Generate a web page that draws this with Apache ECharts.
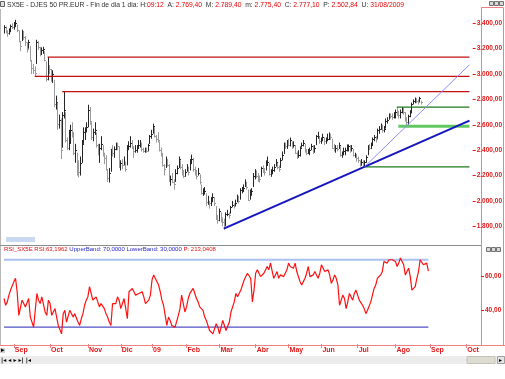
<!DOCTYPE html>
<html><head><meta charset="utf-8">
<script src="https://cdn.jsdelivr.net/npm/echarts@6/dist/echarts.min.js"></script>
<style>html,body{margin:0;padding:0;background:#fff}#c{width:505px;height:379px}</style>
</head><body><div id="c"></div>
<script>
// ---- categories (trading days) ----
const firstDay = '2008-08-22';
const lastAxisDay = '2009-10-14';
const holidays = ['2008-12-24','2008-12-25','2008-12-26','2008-12-31','2009-01-01','2009-04-10','2009-04-13','2009-05-01'];
const monthNames = ['09','Feb','Mar','Abr','May','Jun','Jul','Ago','Sep','Oct','Nov','Dic'];

// ---- daily bars ----
const closes = [
3370,3330,3320,3345,3380,3370,3390,3400,3350,3260,
3220,3330,3290,3250,3200,3250,3110,3050,3030,3010,
3250,3210,3170,3190,3200,3110,2960,3060,3040,2960,
3000,2760,2780,2610,2640,2400,2680,2720,2480,2420,
2460,2560,2540,2380,2400,2260,2230,2300,2450,2540,
2560,2580,2720,2630,2500,2540,2560,2440,2380,2420,
2450,2370,2340,2250,2180,2220,2400,2380,2410,2450,
2430,2270,2300,2280,2310,2250,2420,2430,2460,2430,
2390,2400,2420,2440,2450,2410,2390,2400,2390,2440,
2510,2530,2590,2510,2490,2480,2400,2380,2280,2250,
2300,2280,2160,2170,2150,2130,2220,2260,2330,2270,
2240,2200,2230,2260,2230,2310,2330,2250,2240,2200,
2220,2150,2060,2060,2080,1990,1990,1980,2000,2030,
1980,1860,1850,1920,1850,1830,1810,1900,1900,1890,
1950,1970,1960,1980,2020,2000,2090,2090,2100,2150,
2110,2010,2070,2080,2200,2230,2200,2180,2170,2260,
2240,2230,2280,2310,2210,2230,2240,2270,2310,2270,
2250,2320,2360,2450,2430,2460,2440,2480,2430,2440,
2380,2360,2360,2420,2440,2460,2390,2380,2390,2400,
2430,2390,2420,2510,2510,2470,2490,2500,2470,2480,
2490,2520,2500,2420,2410,2420,2410,2440,2360,2370,
2390,2400,2410,2430,2400,2420,2360,2360,2340,2320,
2280,2310,2290,2310,2350,2430,2420,2440,2490,2500,
2490,2560,2570,2590,2560,2570,2630,2640,2680,2670,
2660,2670,2700,2690,2680,2700,2730,2700,2640,2620,
2670,2700,2760,2790,2800,2790,2780,2810,2777];
const highs = [
3385,3375,3345,3360,3390,3400,3410,3427,3390,3345,
3260,3350,3340,3300,3250,3270,3220,3110,3080,3060,
3270,3260,3215,3210,3215,3180,3100,3134,3070,3040,
3030,2955,2830,2775,2680,2650,2700,2861,2700,2500,
2560,2600,2620,2540,2450,2380,2320,2350,2480,2580,
2580,2620,2758,2740,2620,2570,2620,2540,2450,2450,
2510,2440,2380,2360,2250,2260,2410,2440,2430,2460,
2460,2430,2320,2330,2350,2310,2440,2470,2510,2480,
2430,2440,2440,2480,2480,2460,2420,2420,2420,2450,
2520,2560,2609,2580,2520,2540,2470,2420,2370,2290,
2350,2330,2290,2200,2220,2170,2250,2280,2350,2320,
2290,2240,2250,2290,2270,2330,2365,2340,2270,2240,
2260,2210,2130,2100,2110,2060,2040,2000,2030,2060,
2030,1960,1890,1940,1910,1870,1860,1910,1930,1910,
1960,2000,1980,2010,2050,2040,2100,2110,2130,2170,
2150,2090,2090,2100,2220,2250,2240,2220,2200,2270,
2280,2260,2320,2350,2300,2250,2270,2290,2330,2300,
2280,2340,2390,2460,2460,2480,2490,2500,2470,2470,
2440,2390,2400,2430,2460,2480,2450,2410,2410,2420,
2450,2440,2440,2520,2545,2510,2500,2530,2500,2500,
2530,2540,2530,2490,2450,2440,2440,2460,2430,2390,
2420,2420,2445,2445,2440,2440,2410,2380,2370,2350,
2320,2330,2320,2320,2360,2440,2450,2460,2500,2520,
2510,2570,2590,2610,2600,2590,2650,2660,2690,2690,
2690,2700,2720,2740,2710,2720,2740,2735,2700,2660,
2680,2715,2775,2800,2815,2810,2800,2820,2790];
const lows = [
3320,3320,3295,3310,3330,3355,3350,3370,3330,3250,
3180,3260,3270,3220,3170,3200,3100,3000,3000,2981,
3080,3190,3140,3150,3160,3100,2940,2950,3000,2940,
2930,2740,2720,2560,2570,2330,2420,2650,2460,2400,
2400,2450,2500,2360,2300,2200,2184,2200,2300,2450,
2480,2540,2580,2600,2480,2470,2520,2420,2360,2300,
2400,2350,2290,2240,2150,2145,2230,2350,2340,2400,
2400,2260,2240,2250,2280,2230,2280,2400,2420,2410,
2340,2380,2380,2410,2420,2390,2380,2380,2380,2390,
2450,2490,2530,2500,2460,2460,2390,2350,2270,2200,
2260,2270,2150,2120,2140,2089,2150,2210,2260,2250,
2200,2180,2190,2230,2200,2240,2290,2230,2200,2170,
2200,2130,2050,2040,2050,1960,1970,1940,1960,1990,
1960,1850,1820,1840,1830,1800,1775,1800,1880,1860,
1900,1950,1940,1960,1990,1980,2010,2060,2070,2110,
2090,2000,2010,2040,2110,2170,2180,2150,2145,2190,
2220,2200,2240,2280,2200,2190,2210,2230,2270,2250,
2230,2260,2320,2370,2410,2410,2430,2430,2410,2420,
2370,2330,2340,2350,2420,2430,2380,2360,2370,2360,
2400,2370,2380,2440,2490,2450,2450,2470,2440,2450,
2470,2480,2480,2410,2390,2380,2390,2410,2350,2340,
2360,2360,2390,2390,2380,2390,2350,2340,2310,2300,
2270,2280,2270,2265,2300,2360,2400,2410,2440,2470,
2460,2490,2530,2560,2540,2540,2570,2610,2640,2650,
2640,2650,2650,2670,2650,2650,2690,2680,2625,2588,
2600,2660,2690,2760,2770,2770,2760,2780,2760];
const rsi = [
47,43,45,49,52,53,57,59,51,37,
36,46,44,42,41,47,36,33,30,31,
50,46,44,48,47,39,37,46,44,37,
38,41,36,31,30,26,38,40,33,34,
40,39,36,38,39,33,31,35,38,43,
46,48,54,50,46,47,48,45,42,44,
43,41,38,36,33,31,44,43,44,48,
46,41,44,47,41,35,51,52,53,51,
49,50,50,51,51,48,44,45,46,49,
58,61,60,57,55,51,46,43,37,31,
36,34,31,32,30,29,37,41,49,44,
39,42,47,50,51,53,50,47,45,42,
43,40,36,34,33,28,29,26,29,32,
30,26,30,34,31,28,27,33,39,38,
45,50,48,49,52,53,58,60,62,61,
59,45,52,62,64,63,60,59,62,63,
66,64,68,69,59,61,63,59,61,62,
60,59,64,68,66,67,65,68,63,62,
57,55,56,59,62,66,60,59,61,63,
61,59,62,67,66,63,64,64,61,56,
58,61,59,55,43,46,49,47,41,45,
50,48,46,50,52,53,46,45,43,41,
38,40,39,45,49,53,55,59,60,61,
63,69,68,68,70,71,70,71,69,66,
68,71,69,67,61,63,65,60,52,53,
54,59,63,70,69,67,66,68,63.2];

// ---- drawn levels and trendlines ----
const redLevels = [3134, 2981, 2861];
const redStarts = ['2008-09-30','2008-09-18','2008-10-13'];
const greenLevels = [2740, 2588, 2268];
const greenStarts = ['2009-08-10','2009-08-11','2009-07-13'];
const levelEnd = '2009-10-12';
const mainTrend = [['2009-03-09',1782],['2009-10-12',2633]];
const fastTrend = [['2009-07-13',2268],['2009-10-12',3073]];
const upperBand = 70, lowerBand = 30;
const priceTicks = [1800,2000,2200,2400,2600,2800,3000,3200,3400];
const rsiTicks = [40,60];

// build trading-day categories
const dates = [];
(function(){
  let t = Date.parse(firstDay + 'T00:00:00Z');
  const end = Date.parse(lastAxisDay + 'T00:00:00Z');
  while (t <= end) {
    const d = new Date(t); const wd = d.getUTCDay(); const s = d.toISOString().slice(0,10);
    if (wd !== 0 && wd !== 6 && holidays.indexOf(s) < 0) dates.push(s);
    t += 86400000;
  }
})();
const idx = s => dates.indexOf(s);
const isMonthStart = i => i > 0 && dates[i].slice(5,7) !== dates[i-1].slice(5,7);
function fmtNum(v){ const p = v.toFixed(2).split('.'); return p[0].replace(/\B(?=(\d{3})+(?!\d))/g,'.') + ',' + p[1]; }

const FONT = '"Liberation Sans", Arial, sans-serif';
const RED = '#e01818';
const PINK = '#f08080';

const bars = closes.map((c,i) => [i, highs[i], lows[i], c, (i > 0 && c < closes[i-1]) ? 1 : 0]);

function lineSeries(data, color, width, gi){
  return {type:'line', xAxisIndex:gi, yAxisIndex:gi, data:data, symbol:'none', silent:true, animation:false,
    lineStyle:{color:color, width:width}, z:3};
}

const series = [{
  type:'custom', xAxisIndex:0, yAxisIndex:0, data:bars, animation:false, silent:true,
  encode:{x:0, y:[1,2]},
  renderItem:function(params, api){
    const i = api.value(0);
    const top = api.coord([i, api.value(1)]);
    const bot = api.coord([i, api.value(2)]);
    const cl = api.coord([i, api.value(3)]);
    const x = Math.round(top[0]) + 0.5;
    const col = api.value(4) ? '#9a9a9a' : '#252525';
    const cy = Math.round(cl[1]) + 0.5;
    return {type:'group', children:[
      {type:'line', shape:{x1:x, y1:top[1], x2:x, y2:bot[1]}, style:{stroke:col, lineWidth:1}},
      {type:'line', shape:{x1:x, y1:cy, x2:x+1.5, y2:cy}, style:{stroke:col, lineWidth:1}}
    ]};
  }
}];
redLevels.forEach((v,i) => series.push(lineSeries([[idx(redStarts[i]), v],[idx(levelEnd), v]], '#c21010', 1.3, 0)));
series.push(lineSeries([[idx(greenStarts[0]), greenLevels[0]],[idx(levelEnd), greenLevels[0]]], '#1b7a1b', 1.3, 0));
series.push(lineSeries([[idx(greenStarts[1]), greenLevels[1]],[idx(levelEnd), greenLevels[1]]], '#62c862', 3, 0));
series.push(lineSeries([[idx(greenStarts[2]), greenLevels[2]],[idx(levelEnd), greenLevels[2]]], '#1b7a1b', 1.3, 0));
series.push(lineSeries(mainTrend.map(p => [idx(p[0]), p[1]]), '#1414c0', 2, 0));
series.push(lineSeries(fastTrend.map(p => [idx(p[0]), p[1]]), '#8c8cff', 1, 0));
// RSI panel
series.push(lineSeries([[0, upperBand],[rsi.length-1, upperBand]], '#a9c0f0', 2, 1));
series.push(lineSeries([[0, lowerBand],[rsi.length-1, lowerBand]], '#5050c8', 1.3, 1));
series.push(lineSeries(rsi.map((v,i) => [i, v]), '#ff1010', 1.2, 1));

const graphic = [
  {type:'line', shape:{x1:0.5,y1:9,x2:0.5,y2:345}, style:{stroke:'#b8b8b8', lineWidth:1}},
  {type:'rect', shape:{x:0.5,y:1.5,width:4,height:5}, style:{fill:'#e0e0e0', stroke:'#606060', lineWidth:1}},
  {type:'text', x:7, y:5, style:{text:'{k|SX5E - DJES 50 PR.EUR - Fin de dia 1 dia: H:}{v|09:12}{k|  A: }{v|2.769,40}{k|  M: }{v|2.789,40}{k|  m: }{v|2.775,40}{k|  C: }{v|2.777,10}{k|  P: }{v|2.502,84}{k|  U: }{v|31/08/2009}',
    verticalAlign:'middle', font:'6.75px ' + FONT,
    rich:{k:{fill:'#303030', fontSize:6.75, fontFamily:FONT}, v:{fill:'#e00000', fontSize:6.75, fontFamily:FONT}}}},
  {type:'rect', shape:{x:481.5,y:7.5,width:22,height:338}, style:{fill:'none', stroke:PINK, lineWidth:1}},
  {type:'rect', shape:{x:489.5,y:1.5,width:4,height:4}, style:{fill:'#d8d8d8', stroke:'#707070', lineWidth:1}},
  {type:'rect', shape:{x:494.5,y:1.5,width:4,height:4}, style:{fill:'#d8d8d8', stroke:'#707070', lineWidth:1}},
  {type:'rect', shape:{x:499.5,y:1.5,width:4,height:4}, style:{fill:'#d8d8d8', stroke:'#707070', lineWidth:1}},
  {type:'line', shape:{x1:0,y1:245.5,x2:481,y2:245.5}, style:{stroke:'#8c8c8c', lineWidth:1}},
  {type:'rect', shape:{x:6,y:237,width:29,height:5}, style:{fill:'#c8d8f0'}},
  {type:'rect', shape:{x:486.5,y:247.5,width:4,height:4}, style:{fill:'#d8d8d8', stroke:'#707070', lineWidth:1}},
  {type:'rect', shape:{x:491.5,y:247.5,width:4,height:4}, style:{fill:'#d8d8d8', stroke:'#707070', lineWidth:1}},
  {type:'rect', shape:{x:496.5,y:247.5,width:4,height:4}, style:{fill:'#d8d8d8', stroke:'#707070', lineWidth:1}},
  {type:'text', x:4, y:249, style:{text:'{r|RSI_SX5E RSI:63,1962} {b|UpperBand: 70,0000 LowerBand: 30,0000} {r|P: 213,0408}',
    verticalAlign:'middle', font:'6px ' + FONT,
    rich:{r:{fill:'#e01010', fontSize:6, fontFamily:FONT}, b:{fill:'#2828c8', fontSize:6, fontFamily:FONT}}}},
  {type:'line', shape:{x1:0,y1:345.5,x2:505,y2:345.5}, style:{stroke:PINK, lineWidth:1}},
  {type:'rect', shape:{x:0,y:348,width:5,height:5}, style:{fill:'#d0d0d0'}},
  {type:'text', x:1, y:350.5, style:{text:'▸', fill:'#000', font:'7px "DejaVu Sans"', verticalAlign:'middle'}},
  {type:'rect', shape:{x:0,y:356,width:505,height:8}, style:{fill:'#ececec'}},
  {type:'rect', shape:{x:467,y:356.5,width:28,height:7}, style:{fill:'#dcdcd0', stroke:'#c4c4bc', lineWidth:1}},
  {type:'rect', shape:{x:497.5,y:356.5,width:7,height:7}, style:{fill:'#e4e4e4', stroke:'#a0a0a0', lineWidth:1}},
  {type:'text', x:499, y:360, style:{text:'▸', fill:'#000', font:'6px "DejaVu Sans"', verticalAlign:'middle'}},
  {type:'text', x:1, y:360, style:{text:'|◂ ◂ ▸ ▸| |◂', fill:'#000', font:'bold 6px "DejaVu Sans"', verticalAlign:'middle'}}
];

const chart = echarts.init(document.getElementById('c'), null, {renderer:'canvas'});
chart.setOption({
  animation:false,
  backgroundColor:'#ffffff',
  grid:[
    {left:4, right:24, top:9, bottom:135},
    {left:4, right:24, top:253, bottom:35}
  ],
  xAxis:[
    {type:'category', gridIndex:0, data:dates, boundaryGap:false, show:false},
    {type:'category', gridIndex:1, data:dates, boundaryGap:false,
      axisLine:{show:false},
      axisTick:{show:true, interval:(i)=>isMonthStart(i), length:4, lineStyle:{color:PINK, width:1}},
      axisLabel:{interval:(i)=>isMonthStart(i), formatter:(v)=>monthNames[parseInt(v.slice(5,7),10)-1],
        color:RED, fontSize:7, fontWeight:'bold', fontFamily:FONT, align:'left', margin:3, padding:[0,0,0,1]},
      splitLine:{show:false}}
  ],
  yAxis:[
    {type:'value', gridIndex:0, position:'right', min:1660.5, max:3512.7, scale:true,
      axisLine:{show:false}, splitLine:{show:false},
      axisTick:{show:true, customValues:priceTicks, length:3, lineStyle:{color:RED}},
      axisLabel:{customValues:priceTicks, formatter:(v)=>fmtNum(v), color:RED, fontSize:6.5, fontWeight:'bold', fontFamily:FONT, margin:4}},
    {type:'value', gridIndex:1, position:'right', min:20, max:74,
      axisLine:{show:false}, splitLine:{show:false},
      axisTick:{show:true, customValues:rsiTicks, length:3, lineStyle:{color:RED}},
      axisLabel:{customValues:rsiTicks, formatter:(v)=>fmtNum(v), color:RED, fontSize:6.5, fontWeight:'bold', fontFamily:FONT, margin:4}}
  ],
  series:series,
  graphic:graphic
});
</script></body></html>
